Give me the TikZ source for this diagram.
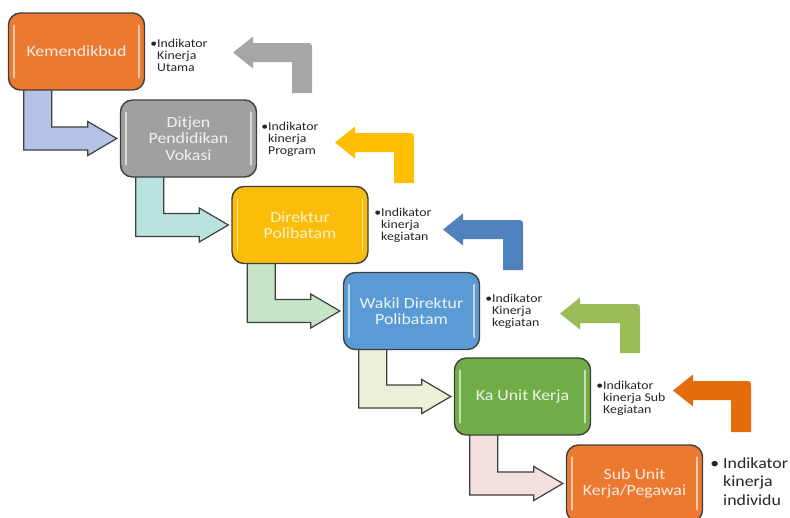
\documentclass[tikz,border=0pt]{standalone}
\usepackage{fontspec}
\setmainfont{Carlito}[FakeStretch=1.15]
\usetikzlibrary{calc}
\definecolor{boxline}{HTML}{3F3F3F}
\definecolor{cOrange}{HTML}{EB7A30}
\definecolor{cGray}{HTML}{A0A0A0}
\definecolor{cGold}{HTML}{FCBD0A}
\definecolor{cBlue}{HTML}{5B9BD5}
\definecolor{cGreen}{HTML}{70AD47}
\definecolor{aOne}{HTML}{B4C2E6}
\definecolor{aTwo}{HTML}{B9E3DE}
\definecolor{aThree}{HTML}{C6E4C6}
\definecolor{aFour}{HTML}{EBF0D6}
\definecolor{aFive}{HTML}{F4DFDF}
\definecolor{uGray}{HTML}{A6A6A6}
\definecolor{uGold}{HTML}{FFBF00}
\definecolor{uBlue}{HTML}{4F81BD}
\definecolor{uGreen}{HTML}{9BBB59}
\definecolor{uOrange}{HTML}{E46C0A}
\newcommand\UpArr[5]{%
  \fill[#1] (#2,#3+9.5) -- (#2+20,#3-6.5) -- (#2+20,#3) -- (#4-7,#3)
    .. controls (#4,#3) .. (#4,#3+7) -- (#4,#5) -- (#4-20,#5) -- (#4-20,#3+19)
    -- (#2+20,#3+19) -- (#2+20,#3+25.5) -- cycle;}
\begin{document}
\begin{tikzpicture}[x=1pt,y=-1pt,
  box/.style={draw=boxline, line width=1.4pt, rounded corners=12pt,
    minimum width=136pt, minimum height=77pt, inner sep=2pt, align=center,
    font=\fontsize{15.5}{16.5}\selectfont},
  darrow/.style={draw=boxline, line width=1.2pt, line join=miter},
  lbl/.style={anchor=base west, inner sep=0, align=left,
    font=\fontsize{12}{12.3}\selectfont, text=black!85},
  hl/.style={white, opacity=0.6, line width=1.5pt, line cap=round}]
\useasboundingbox (0,0) rectangle (790,517);
\clip (0,0) rectangle (790,517);

\path (76.5,51.5) coordinate (p1) (188.5,138.5) coordinate (p2)
      (300,225) coordinate (p3) (411.5,311) coordinate (p4)
      (522.5,396.5) coordinate (p5) (634.5,483.5) coordinate (p6);
\foreach \i in {1,...,6} {\path (p\i) node[box, draw=none, text opacity=0] (b\i) {};}

% down-right arrows
\draw[darrow, fill=aOne] ($(b1.south west)+(16,-2)$) |- ($(b2.west)+(-32,11.5)$) -- ++(0,5.5) -- ($(b2.west)+(-3,0)$) -- ++(-29,-17) -- ++(0,5.5) -| ($(b1.south west)+(44,-2)$) -- cycle;
\draw[darrow, fill=aTwo] ($(b2.south west)+(16,-2)$) |- ($(b3.west)+(-32,11.5)$) -- ++(0,5.5) -- ($(b3.west)+(-3,0)$) -- ++(-29,-17) -- ++(0,5.5) -| ($(b2.south west)+(44,-2)$) -- cycle;
\draw[darrow, fill=aThree] ($(b3.south west)+(16,-2)$) |- ($(b4.west)+(-32,11.5)$) -- ++(0,5.5) -- ($(b4.west)+(-3,0)$) -- ++(-29,-17) -- ++(0,5.5) -| ($(b3.south west)+(44,-2)$) -- cycle;
\draw[darrow, fill=aFour] ($(b4.south west)+(16,-2)$) |- ($(b5.west)+(-32,11.5)$) -- ++(0,5.5) -- ($(b5.west)+(-3,0)$) -- ++(-29,-17) -- ++(0,5.5) -| ($(b4.south west)+(44,-2)$) -- cycle;
\draw[darrow, fill=aFive] ($(b5.south west)+(16,-2)$) |- ($(b6.west)+(-32,11.5)$) -- ++(0,5.5) -- ($(b6.west)+(-3,0)$) -- ++(-29,-17) -- ++(0,5.5) -| ($(b5.south west)+(44,-2)$) -- cycle;

% boxes
\node[box, fill=cOrange, text=white!85!cOrange] at (p1) {Kemendikbud};
\node[box, fill=cGray, text=white!85!cGray] at (p2) {Ditjen\\Pendidikan\\Vokasi};
\node[box, fill=cGold, text=white!80!cGold] at (p3) {Direktur\\Polibatam};
\node[box, fill=cBlue, text=white!88!cBlue] at (p4) {Wakil Direktur\\Polibatam};
\node[box, fill=cGreen, text=white!88!cGreen] at (p5) {Ka Unit Kerja};
\node[box, fill=cOrange, text=white!85!cOrange] at (p6) {Sub Unit\\Kerja/Pegawai};
\foreach \i in {1,...,6} {
  \draw[hl] ($(b\i.north west)+(6,13)$) -- ($(b\i.south west)+(6,-13)$);
  \draw[hl] ($(b\i.north east)+(-6,13)$) -- ($(b\i.south east)+(-6,-13)$);
}

% labels (anchor = baseline of last line)
\node[lbl] (t1) at (157,71.6) {\llap{•}Indikator\\Kinerja\\Utama};
\node[lbl] (t2) at (268,154.6) {\llap{•}Indikator\\kinerja\\Program};
\node[lbl] (t3) at (381,240.6) {\llap{•}Indikator\\kinerja\\kegiatan};
\node[lbl] (t4) at (492,326.6) {\llap{•}Indikator\\Kinerja\\kegiatan};
\node[lbl] (t5) at (603,413.6) {\llap{•}Indikator\\kinerja Sub\\Kegiatan};
\node[lbl, font=\fontsize{15.5}{18.5}\selectfont] (t6) at (723,505) {\llap{•\ }Indikator\\kinerja\\individu};

% up-left arrows
\UpArr{uGray}{233}{43}{312}{93}
\UpArr{uGold}{335}{133}{414}{183}
\UpArr{uBlue}{443}{220}{523}{270}
\UpArr{uGreen}{560}{304}{640}{353}
\UpArr{uOrange}{673}{381}{751}{432}
\end{tikzpicture}
\end{document}
